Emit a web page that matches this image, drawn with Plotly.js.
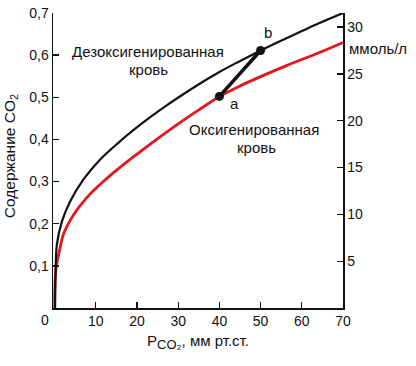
<!DOCTYPE html>
<html>
<head>
<meta charset="utf-8">
<script src="https://cdn.plot.ly/plotly-3.0.1.min.js"></script>
<style>html,body{margin:0;padding:0;background:#fff;}#chart{width:416px;height:366px;}</style>
</head>
<body>
<div id="chart"></div>
<script>
// Deoxygenated blood curve (PCO2 mm Hg -> CO2 content)
const pco2Deoxy = [0.1, 0.2, 0.53, 1.75, 3.76, 7.0, 11.0, 15.1, 19.1, 23.2, 27.2, 31.5, 35.5, 40, 44, 48, 50, 56, 60, 64, 70];
const co2Deoxy  = [0.0, 0.08, 0.150, 0.205, 0.253, 0.305, 0.352, 0.389, 0.422, 0.453, 0.481, 0.509, 0.534, 0.560, 0.581, 0.601, 0.611, 0.639, 0.657, 0.675, 0.700];
// Oxygenated blood curve
const pco2Oxy = [0.0, 0.05, 0.2, 0.5, 1.0, 2.1, 4.6, 7.8, 11.8, 16.7, 20, 25, 30, 35, 40, 45, 50, 56, 64, 70];
const co2Oxy  = [0.0, 0.04, 0.08, 0.105, 0.128, 0.174, 0.221, 0.262, 0.300, 0.340, 0.365, 0.402, 0.437, 0.470, 0.502, 0.527, 0.549, 0.574, 0.605, 0.630];
// Points a and b
const pointX = [40, 50];
const pointY = [0.502, 0.611];
const pointLabels = ['a', 'b'];
// Axis ticks
const xTickVals = [10, 20, 30, 40, 50, 60, 70];
const xTickText = ['10', '20', '30', '40', '50', '60', '70'];
const yTickVals = [0.1, 0.2, 0.3, 0.4, 0.5, 0.6, 0.7];
const yTickText = ['0,1', '0,2', '0,3', '0,4', '0,5', '0,6', '0,7'];
const y2TickVals = [5, 10, 15, 20, 25, 30];
const y2TickText = ['5', '10', '15', '20', '25', '30'];
// Texts
const labelDeoxy = ['Дезоксигенированная', 'кровь'];
const labelOxy = ['Оксигенированная', 'кровь'];
const y2Unit = 'ммоль/л';

const FONT = 'Liberation Sans, Arial, sans-serif';
const INK = '#111111';
const RED = '#e3161d';

const traces = [
  {x: pco2Oxy, y: co2Oxy, mode: 'lines', line: {color: RED, width: 2.8, shape: 'spline', smoothing: 0.8}, hoverinfo: 'skip'},
  {x: pco2Deoxy, y: co2Deoxy, mode: 'lines', line: {color: INK, width: 2.2, shape: 'spline', smoothing: 0.8}, hoverinfo: 'skip'},
  {x: pointX, y: pointY, mode: 'lines+markers', line: {color: INK, width: 3.5}, marker: {color: INK, size: 9}, hoverinfo: 'skip'},
  {x: [0], y: [0], yaxis: 'y2', mode: 'markers', marker: {opacity: 0}, hoverinfo: 'skip'}
];

const ann = (text, x, y, extra) => Object.assign({text, x, y, xref: 'x', yref: 'y', showarrow: false,
  font: {family: FONT, size: 15, color: INK}, xanchor: 'center', yanchor: 'middle'}, extra || {});

const layout = {
  width: 416, height: 366,
  margin: {l: 53, r: 73, t: 12.5, b: 58},
  paper_bgcolor: '#ffffff', plot_bgcolor: '#ffffff',
  showlegend: false,
  font: {family: FONT, size: 14, color: INK},
  xaxis: {
    range: [-0.4, 70], tickvals: xTickVals, ticktext: xTickText,
    ticks: 'inside', ticklen: 6, tickwidth: 1.3, tickcolor: INK,
    showline: true, linecolor: INK, linewidth: 1.5, showgrid: false, zeroline: false,
    tickfont: {family: FONT, size: 14, color: INK},
    title: {text: 'P<sub><span style="font-size:13px">CO₂</span></sub>, мм рт.ст.', font: {family: FONT, size: 15, color: INK}, standoff: 7}
  },
  yaxis: {
    range: [0, 0.7], tickvals: yTickVals, ticktext: yTickText,
    ticks: 'inside', ticklen: 6, tickwidth: 1.3, tickcolor: INK,
    showline: true, linecolor: INK, linewidth: 1.5, showgrid: false, zeroline: false,
    tickfont: {family: FONT, size: 14, color: INK}
  },
  yaxis2: {
    overlaying: 'y', side: 'right', range: [0, 31.5], tickvals: y2TickVals, ticktext: y2TickText,
    ticks: 'inside', ticklen: 6, tickwidth: 1.3, tickcolor: INK,
    showline: true, linecolor: INK, linewidth: 1.5, showgrid: false, zeroline: false,
    tickfont: {family: FONT, size: 14, color: INK}
  },
  annotations: [
    ann(labelDeoxy[0], 22.6, 0.609),
    ann(labelDeoxy[1], 22.8, 0.567),
    ann(labelOxy[0], 48.4, 0.424),
    ann(labelOxy[1], 48.9, 0.381),
    ann(pointLabels[0], 43.7, 0.486),
    ann(pointLabels[1], 51.8, 0.653),
    {text: y2Unit, xref: 'paper', yref: 'paper', x: 1.014, y: 0.878, xanchor: 'left', yanchor: 'middle', showarrow: false,
     font: {family: FONT, size: 15, color: INK}},
    {text: '0', xref: 'paper', yref: 'paper', x: -0.028, y: -0.04, xanchor: 'center', yanchor: 'middle', showarrow: false,
     font: {family: FONT, size: 14, color: INK}},
    {text: 'Содержание CO<sub>2</sub>', xref: 'paper', yref: 'paper', x: -0.148, y: 0.515, textangle: -90,
     xanchor: 'center', yanchor: 'middle', showarrow: false, font: {family: FONT, size: 15.5, color: INK}}
  ]
};

Plotly.newPlot('chart', traces, layout, {staticPlot: true, displayModeBar: false});
</script>
</body>
</html>
